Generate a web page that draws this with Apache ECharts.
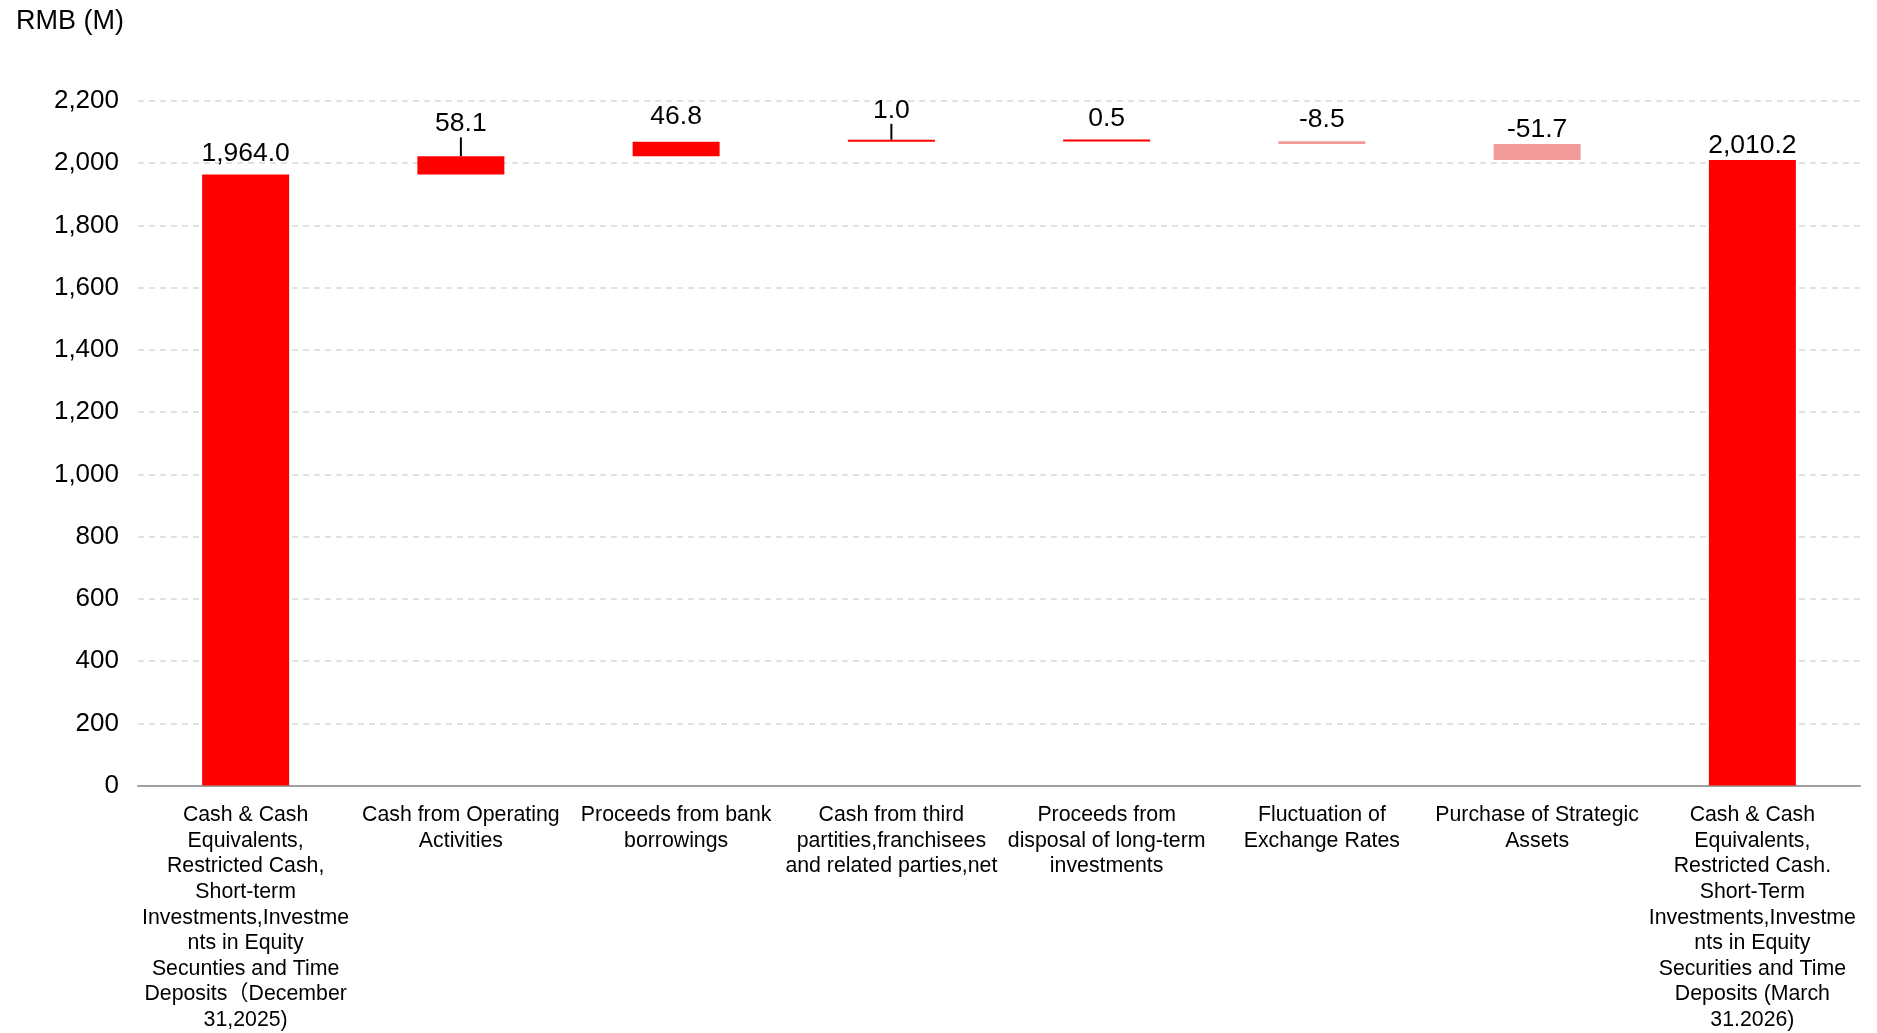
<!DOCTYPE html>
<html>
<head>
<meta charset="utf-8">
<script src="https://cdn.jsdelivr.net/npm/echarts@6/dist/echarts.min.js"></script>
<style>
html,body{margin:0;padding:0;background:#fff;}
#chart{width:1877px;height:1033px;}
</style>
</head>
<body>
<div id="chart"></div>
<script>
// ---- data ----
const categories = [
  "Cash & Cash\nEquivalents,\nRestricted Cash,\nShort-term\nInvestments,Investme\nnts in Equity\nSecunties and Time\nDeposits（December\n31,2025)",
  "Cash from Operating\nActivities",
  "Proceeds from bank\nborrowings",
  "Cash from third\npartities,franchisees\nand related parties,net",
  "Proceeds from\ndisposal of long-term\ninvestments",
  "Fluctuation of\nExchange Rates",
  "Purchase of Strategic\nAssets",
  "Cash & Cash\nEquivalents,\nRestricted Cash.\nShort-Term\nInvestments,Investme\nnts in Equity\nSecurities and Time\nDeposits (March\n31.2026)"
];
// true = total bar (from zero), false = change
const isTotal = [true, false, false, false, false, false, false, true];
const values = [1964.0, 58.1, 46.8, 1.0, 0.5, -8.5, -51.7, 2010.2];
const yTicks = { min: 0, max: 2200, interval: 200 };
const unitLabel = "RMB (M)";

// ---- build waterfall ----
const baseData = [];
const barData = [];
let running = 0;
const labelDist = [8, 5, 12, 5, 8, 8, 1, 1];
const leaderDy = [0, -14, 0, -11, 0, 0, 0, 0];
values.forEach((v, i) => {
  let base, h;
  if (isTotal[i]) { base = 0; h = v; running = v; }
  else if (v >= 0) { base = running; h = v; running += v; }
  else { running += v; base = running; h = -v; }
  baseData.push(base);
  const color = (!isTotal[i] && v < 0) ? '#F09A9A' : '#FF0000';
  barData.push({
    value: h,
    itemStyle: { color: color },
    label: { distance: labelDist[i] },
    labelLine: { show: leaderDy[i] !== 0 }
  });
});

const fmt = v => v.toLocaleString('en-US', { minimumFractionDigits: 1, maximumFractionDigits: 1 });
const FONT = '"Liberation Sans", Arial, "Noto Sans CJK SC", sans-serif';

const chart = echarts.init(document.getElementById('chart'), null, { renderer: 'canvas' });
chart.setOption({
  backgroundColor: '#fff',
  animation: false,
  title: {
    text: unitLabel, left: 11, top: 3,
    textStyle: { fontFamily: FONT, fontSize: 27, fontWeight: 'normal', color: '#000' }
  },
  grid: { left: 138, right: 17, top: 101, bottom: 243, containLabel: false },
  xAxis: {
    type: 'category',
    data: categories,
    axisTick: { show: false },
    axisLine: { lineStyle: { color: '#A0A0A0', width: 2 } },
    axisLabel: {
      interval: 0, margin: 17,
      fontFamily: FONT, fontSize: 21.3, lineHeight: 25.6, color: '#000',
      align: 'center'
    }
  },
  yAxis: {
    type: 'value',
    min: yTicks.min, max: yTicks.max, interval: yTicks.interval,
    axisLine: { show: false },
    axisTick: { show: false },
    axisLabel: {
      margin: 19, fontFamily: FONT, fontSize: 26, color: '#000',
      formatter: v => v.toLocaleString('en-US')
    },
    splitLine: { lineStyle: { color: '#D9D9D9', type: [6, 5], width: 1.5 } }
  },
  series: [
    {
      type: 'bar', stack: 'wf', silent: true,
      barWidth: 87,
      itemStyle: { color: 'transparent' },
      data: baseData
    },
    {
      type: 'bar', stack: 'wf',
      barWidth: 87, barMinHeight: 2,
      data: barData,
      label: {
        show: true, position: 'top',
        fontFamily: FONT, fontSize: 26.5, color: '#000',
        formatter: p => fmt(values[p.dataIndex])
      },
      labelLine: { show: false, lineStyle: { color: '#000', width: 2 } },
      labelLayout: p => leaderDy[p.dataIndex] ? { dy: leaderDy[p.dataIndex] } : {}
    }
  ]
});
</script>
</body>
</html>
